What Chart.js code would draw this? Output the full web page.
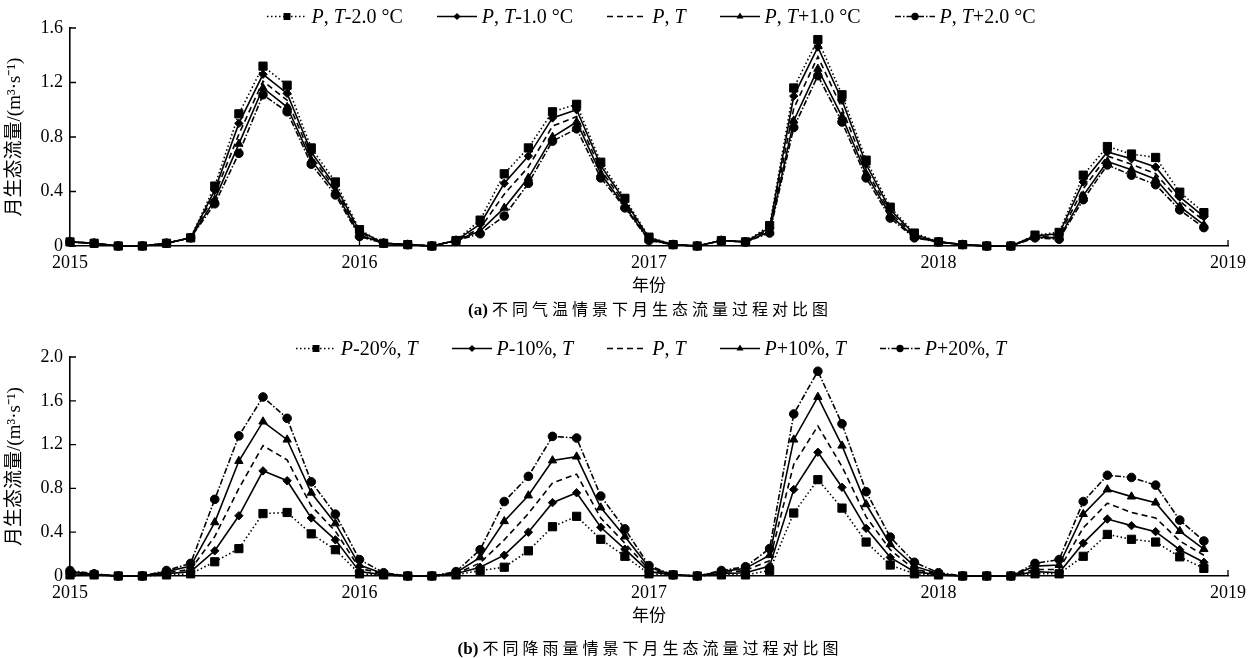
<!DOCTYPE html>
<html>
<head>
<meta charset="utf-8">
<script src="https://cdn.jsdelivr.net/npm/chart.js@4/dist/chart.umd.min.js"></script>
<style>
  body { margin: 0; background: #fff; }
  #wrap { position: relative; width: 1260px; height: 658px; overflow: hidden; }
  canvas { position: absolute; left: 0; }
  .legend { position: absolute; left: 0; width: 1302px; height: 22px; display: flex; justify-content: center; align-items: center; gap: 34px;
            font-family: "Liberation Serif", serif; font-size: 20px; color: #000; white-space: nowrap; }
  .legend .item { display: flex; align-items: center; gap: 5px; }
  .caption { position: absolute; left: 0; width: 1300px; text-align: center; font-family: "Noto Sans CJK SC", sans-serif; font-size: 16px; letter-spacing: 4px; color: #000; line-height: 20px; }
  .caption b { font-family: "Liberation Serif", serif; font-size: 17px; letter-spacing: 0; margin-right: 4px; }
</style>
</head>
<body>
<div id="wrap">
  <canvas id="chartA" width="1260" height="300" style="top:0"></canvas>
  <div id="legendA" class="legend" style="top:5px"></div>
  <div class="caption" style="top:298px"><b>(a)</b>不同气温情景下月生态流量过程对比图</div>
  <canvas id="chartB" width="1260" height="310" style="top:320px"></canvas>
  <div id="legendB" class="legend" style="top:337px"></div>
  <div class="caption" style="top:637px"><b>(b)</b>不同降雨量情景下月生态流量过程对比图</div>
</div>
<script>
// monthly values Jan 2015 .. Dec 2018 (48 months)
const years = ['2015', '2016', '2017', '2018', '2019'];
const yTicksA = [0, 0.4, 0.8, 1.2, 1.6];
const yTicksB = [0, 0.4, 0.8, 1.2, 1.6, 2.0];

const tempLabels = ['P, T-2.0 °C', 'P, T-1.0 °C', 'P, T', 'P, T+1.0 °C', 'P, T+2.0 °C'];
const tempMinus2 = [0.03,0.02,0,0,0.02,0.06,0.44,0.97,1.32,1.18,0.72,0.47,
  0.12,0.02,0.01,0,0.04,0.19,0.53,0.72,0.985,1.04,0.615,0.35,
  0.065,0.01,0,0.04,0.03,0.15,1.16,1.515,1.11,0.63,0.285,0.095,
  0.03,0.01,0,0,0.08,0.10,0.52,0.73,0.675,0.65,0.395,0.245];
const tempMinus1 = [0.03,0.02,0,0,0.02,0.06,0.41,0.90,1.26,1.12,0.69,0.44,
  0.11,0.02,0.01,0,0.04,0.16,0.46,0.66,0.94,1.00,0.59,0.33,
  0.06,0.01,0,0.04,0.03,0.135,1.10,1.46,1.07,0.60,0.265,0.085,
  0.03,0.01,0,0,0.075,0.09,0.47,0.69,0.64,0.58,0.36,0.215];
const tempBase = [0.03,0.02,0,0,0.02,0.06,0.38,0.82,1.21,1.07,0.66,0.42,
  0.10,0.02,0.01,0,0.04,0.13,0.38,0.58,0.88,0.95,0.56,0.31,
  0.05,0.01,0,0.04,0.03,0.12,1.01,1.39,1.01,0.56,0.245,0.075,
  0.03,0.01,0,0,0.07,0.075,0.42,0.66,0.60,0.53,0.33,0.185];
const tempPlus1 = [0.03,0.02,0,0,0.02,0.06,0.34,0.75,1.16,1.02,0.63,0.40,
  0.08,0.02,0.01,0,0.04,0.11,0.28,0.50,0.80,0.91,0.53,0.29,
  0.045,0.01,0,0.04,0.03,0.105,0.92,1.30,0.95,0.53,0.225,0.065,
  0.03,0.01,0,0,0.065,0.06,0.37,0.62,0.56,0.49,0.29,0.155];
const tempPlus2 = [0.03,0.02,0,0,0.02,0.06,0.31,0.68,1.11,0.985,0.60,0.375,
  0.07,0.02,0.01,0,0.04,0.09,0.22,0.46,0.77,0.86,0.50,0.28,
  0.04,0.01,0,0.04,0.03,0.095,0.87,1.25,0.91,0.50,0.205,0.06,
  0.03,0.01,0,0,0.06,0.05,0.34,0.595,0.52,0.45,0.265,0.135];

const rainLabels = ['P-20%, T', 'P-10%, T', 'P, T', 'P+10%, T', 'P+20%, T'];
const rainMinus20 = [0.01,0.01,0,0,0.01,0.02,0.13,0.25,0.57,0.58,0.385,0.24,
  0.02,0.01,0,0,0.01,0.05,0.08,0.23,0.45,0.545,0.335,0.18,
  0.02,0.01,0,0.01,0.01,0.05,0.575,0.88,0.62,0.31,0.10,0.02,
  0.01,0,0,0,0.02,0.02,0.18,0.38,0.335,0.31,0.175,0.07];
const rainMinus10 = [0.02,0.01,0,0,0.02,0.04,0.23,0.55,0.96,0.87,0.53,0.33,
  0.04,0.01,0,0,0.02,0.08,0.19,0.40,0.67,0.76,0.445,0.245,
  0.04,0.01,0,0.02,0.03,0.09,0.79,1.13,0.81,0.435,0.17,0.04,
  0.01,0,0,0,0.04,0.03,0.30,0.52,0.46,0.405,0.24,0.125];
const rainBase = [0.03,0.015,0,0,0.03,0.06,0.36,0.80,1.19,1.06,0.64,0.41,
  0.07,0.02,0,0,0.02,0.12,0.33,0.57,0.85,0.93,0.53,0.30,
  0.06,0.01,0,0.03,0.05,0.14,1.02,1.37,1.00,0.54,0.24,0.06,
  0.02,0,0,0,0.06,0.06,0.44,0.665,0.58,0.53,0.32,0.19];
const rainPlus10 = [0.04,0.015,0,0,0.04,0.09,0.49,1.05,1.41,1.245,0.76,0.48,
  0.10,0.02,0,0,0.03,0.17,0.50,0.735,1.055,1.09,0.625,0.36,
  0.08,0.01,0,0.04,0.07,0.19,1.245,1.635,1.19,0.655,0.29,0.09,
  0.02,0,0,0,0.09,0.10,0.565,0.79,0.725,0.67,0.41,0.245];
const rainPlus20 = [0.05,0.02,0,0,0.05,0.115,0.70,1.28,1.635,1.44,0.86,0.565,
  0.15,0.03,0,0,0.04,0.24,0.68,0.91,1.275,1.26,0.73,0.43,
  0.095,0.01,0,0.05,0.085,0.25,1.48,1.87,1.39,0.77,0.355,0.125,
  0.03,0,0,0,0.115,0.15,0.68,0.92,0.90,0.83,0.51,0.32];

// line look per scenario, same order in both panels
const STYLES = [
  { dash: [1.5, 2.5], point: 'rect', radius: 5.8 },
  { dash: [], point: 'rectRot', radius: 4.2 },
  { dash: [6, 4], point: false, radius: 0 },
  { dash: [], point: 'triangle', radius: 4.8 },
  { dash: [6, 2, 1.5, 2], point: 'circle', radius: 4.3 }
];

const SERIF = '"Liberation Serif", "Noto Sans CJK SC", serif';

const innerTicks = {
  id: 'innerTicks',
  afterDatasetsDraw(chart) {
    const { ctx, chartArea: a, scales: { x, y } } = chart;
    ctx.save();
    ctx.strokeStyle = '#000';
    ctx.lineWidth = 1.3;
    ctx.beginPath();
    x.ticks.forEach(t => {
      const px = x.getPixelForValue(t.value);
      ctx.moveTo(px, a.bottom); ctx.lineTo(px, a.bottom - 6);
    });
    y.ticks.forEach(t => {
      const py = y.getPixelForValue(t.value);
      ctx.moveTo(a.left, py); ctx.lineTo(a.left + 6, py);
    });
    ctx.stroke();
    ctx.restore();
  }
};

function buildChart(id, series, names, yTicks, padTop) {
  return new Chart(document.getElementById(id), {
    type: 'line',
    data: {
      datasets: series.map((vals, i) => ({
        label: names[i],
        data: vals.map((v, m) => ({ x: m, y: v })),
        borderColor: '#000',
        backgroundColor: '#000',
        borderWidth: 1.6,
        borderDash: STYLES[i].dash,
        pointStyle: STYLES[i].point,
        pointRadius: STYLES[i].radius,
        pointBackgroundColor: '#000',
        pointBorderColor: '#000',
        pointBorderWidth: 1,
        tension: 0,
        clip: false
      }))
    },
    options: {
      responsive: false,
      animation: false,
      layout: { padding: { top: padTop, right: 32, bottom: 3, left: 0 } },
      plugins: { legend: { display: false }, tooltip: { enabled: false } },
      scales: {
        x: {
          type: 'linear', min: 0, max: 48,
          afterBuildTicks: s => { s.ticks = years.map((_, i) => ({ value: i * 12 })); },
          afterFit: s => { s.height = 51; },
          grid: { display: false, drawTicks: false },
          border: { color: '#000', width: 1.6 },
          ticks: { padding: 6, color: '#000', font: { family: SERIF, size: 18 },
                   callback: (v) => years[Math.round(v / 12)] },
          title: { display: true, text: '年份', color: '#000', padding: 0,
                   font: { family: SERIF, size: 17 } }
        },
        y: {
          min: 0, max: yTicks[yTicks.length - 1],
          afterBuildTicks: s => { s.ticks = yTicks.map(v => ({ value: v })); },
          afterFit: s => { s.width = 70; },
          grid: { display: false, drawTicks: false },
          border: { color: '#000', width: 1.6 },
          ticks: { padding: 7, color: '#000', font: { family: SERIF, size: 18 },
                   callback: v => v === 0 ? '0' : v.toFixed(1) },
          title: { display: true, text: '月生态流量/(m³·s⁻¹)', color: '#000', padding: { top: 4, bottom: 0 },
                   font: { family: SERIF, size: 19 } }
        }
      }
    },
    plugins: [innerTicks]
  });
}

function drawMarker(ctx, style, x, y, r) {
  ctx.beginPath();
  if (style === 'rect') {
    const s = r * Math.SQRT1_2;
    ctx.rect(x - s, y - s, 2 * s, 2 * s);
  } else if (style === 'rectRot') {
    ctx.moveTo(x, y - r); ctx.lineTo(x + r, y); ctx.lineTo(x, y + r); ctx.lineTo(x - r, y); ctx.closePath();
  } else if (style === 'triangle') {
    ctx.moveTo(x, y - r); ctx.lineTo(x + r * 0.866, y + r * 0.5); ctx.lineTo(x - r * 0.866, y + r * 0.5); ctx.closePath();
  } else if (style === 'circle') {
    ctx.arc(x, y, r, 0, Math.PI * 2);
  } else {
    return;
  }
  ctx.fill();
}

function buildLegend(id, names) {
  const box = document.getElementById(id);
  names.forEach((name, i) => {
    const item = document.createElement('div');
    item.className = 'item';
    const c = document.createElement('canvas');
    c.width = 40; c.height = 14;
    c.style.position = 'static';
    const g = c.getContext('2d');
    g.strokeStyle = '#000'; g.fillStyle = '#000'; g.lineWidth = 1.5;
    g.setLineDash(STYLES[i].dash);
    g.beginPath(); g.moveTo(0, 7.5); g.lineTo(40, 7.5); g.stroke();
    drawMarker(g, STYLES[i].point, 20, 7.5, STYLES[i].radius * 0.85);
    const t = document.createElement('span');
    t.innerHTML = name.replace(/\b([PT])\b/g, '<i>$1</i>');
    item.appendChild(c);
    item.appendChild(t);
    box.appendChild(item);
  });
}

buildChart('chartA', [tempMinus2, tempMinus1, tempBase, tempPlus1, tempPlus2], tempLabels, yTicksA, 28);
buildChart('chartB', [rainMinus20, rainMinus10, rainBase, rainPlus10, rainPlus20], rainLabels, yTicksB, 37);
buildLegend('legendA', tempLabels);
buildLegend('legendB', rainLabels);
</script>
</body>
</html>
